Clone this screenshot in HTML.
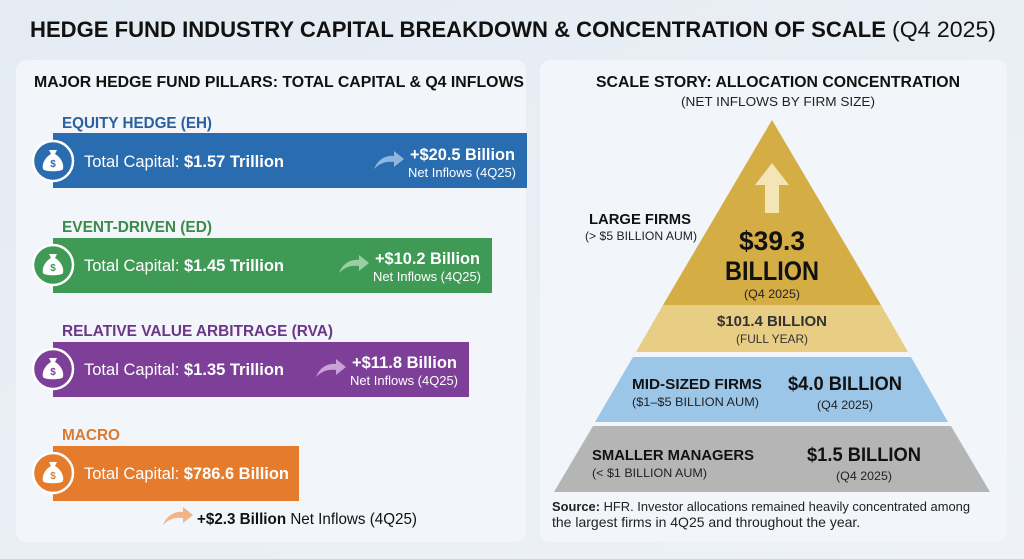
<!DOCTYPE html>
<html><head><meta charset="utf-8"><style>
html,body{margin:0;padding:0;width:1024px;height:559px;overflow:hidden;background:#e8eef5}
svg{display:block}
text{font-family:"Liberation Sans",sans-serif}
.b{font-weight:bold}
</style></head><body>
<svg width="1024" height="559" viewBox="0 0 1024 559" xmlns="http://www.w3.org/2000/svg">
<defs>
<linearGradient id="bg" x1="0" y1="0" x2="1" y2="1"><stop offset="0" stop-color="#e4ebf3"/><stop offset="1" stop-color="#eef2f7"/></linearGradient>
<g id="bag"><circle r="20" fill="currentColor" stroke="#fff" stroke-width="2.5"/><path d="M-4,-11 L4,-11 L2,-7 C9,-3 11,4 10,8 C9,11 -9,11 -10,8 C-11,4 -9,-3 -2,-7 Z" fill="#fff"/><text x="0" y="6" text-anchor="middle" font-size="10" font-weight="bold" fill="currentColor">$</text></g>
<path id="arr" d="M0,14 C4,4 12,0 20,1 L20,-4 L30,4 L20,12 L20,7 C12,6 6,8 0,14 Z"/>
</defs>
<rect width="1024" height="559" fill="url(#bg)"/>
<rect x="16" y="60" width="510" height="482" rx="10" fill="#f2f5f9"/>
<rect x="540" y="60" width="467" height="482" rx="10" fill="#f2f5f9"/>
<text x="30" y="37" class="b" font-size="22" fill="#111" textLength="856" lengthAdjust="spacingAndGlyphs">HEDGE FUND INDUSTRY CAPITAL BREAKDOWN &amp; CONCENTRATION OF SCALE</text>
<text x="892" y="37" font-size="22" fill="#111" textLength="104" lengthAdjust="spacingAndGlyphs">(Q4 2025)</text>
<text x="34" y="87" class="b" font-size="16" fill="#111" textLength="490" lengthAdjust="spacingAndGlyphs">MAJOR HEDGE FUND PILLARS: TOTAL CAPITAL &amp; Q4 INFLOWS</text>

<text x="62" y="128" class="b" font-size="16" fill="#2b5f9e" textLength="150" lengthAdjust="spacingAndGlyphs">EQUITY HEDGE (EH)</text>
<rect x="53" y="133" width="474" height="55" fill="#2a6cb0"/>
<use href="#bag" x="53" y="161" color="#2a6cb0"/>
<text x="84" y="167" font-size="17" fill="#fff" textLength="200" lengthAdjust="spacingAndGlyphs">Total Capital: <tspan class="b">$1.57 Trillion</tspan></text>
<use href="#arr" x="374" y="155" fill="#8fb6df"/>
<text x="410" y="160" class="b" font-size="17" fill="#fff" textLength="105" lengthAdjust="spacingAndGlyphs">+$20.5 Billion</text>
<text x="408" y="177" font-size="13" fill="#fff" textLength="108" lengthAdjust="spacingAndGlyphs">Net Inflows (4Q25)</text>

<text x="62" y="232" class="b" font-size="16" fill="#3a8a4a" textLength="150" lengthAdjust="spacingAndGlyphs">EVENT-DRIVEN (ED)</text>
<rect x="53" y="238" width="439" height="55" fill="#3f9a55"/>
<use href="#bag" x="53" y="265" color="#3f9a55"/>
<text x="84" y="271" font-size="17" fill="#fff" textLength="200" lengthAdjust="spacingAndGlyphs">Total Capital: <tspan class="b">$1.45 Trillion</tspan></text>
<use href="#arr" x="339" y="259" fill="#98cfa3"/>
<text x="375" y="264" class="b" font-size="17" fill="#fff" textLength="105" lengthAdjust="spacingAndGlyphs">+$10.2 Billion</text>
<text x="373" y="281" font-size="13" fill="#fff" textLength="108" lengthAdjust="spacingAndGlyphs">Net Inflows (4Q25)</text>

<text x="62" y="336" class="b" font-size="16" fill="#6b3688" textLength="271" lengthAdjust="spacingAndGlyphs">RELATIVE VALUE ARBITRAGE (RVA)</text>
<rect x="53" y="342" width="416" height="55" fill="#7d3f98"/>
<use href="#bag" x="53" y="369" color="#7d3f98"/>
<text x="84" y="375" font-size="17" fill="#fff" textLength="200" lengthAdjust="spacingAndGlyphs">Total Capital: <tspan class="b">$1.35 Trillion</tspan></text>
<use href="#arr" x="316" y="363" fill="#c7a3d8"/>
<text x="352" y="368" class="b" font-size="17" fill="#fff" textLength="105" lengthAdjust="spacingAndGlyphs">+$11.8 Billion</text>
<text x="350" y="385" font-size="13" fill="#fff" textLength="108" lengthAdjust="spacingAndGlyphs">Net Inflows (4Q25)</text>

<text x="62" y="440" class="b" font-size="16" fill="#d97a30" textLength="58" lengthAdjust="spacingAndGlyphs">MACRO</text>
<rect x="53" y="446" width="246" height="55" fill="#e57b2d"/>
<use href="#bag" x="53" y="473" color="#e57b2d"/>
<text x="84" y="479" font-size="17" fill="#fff" textLength="205" lengthAdjust="spacingAndGlyphs">Total Capital: <tspan class="b">$786.6 Billion</tspan></text>
<use href="#arr" x="163" y="511" fill="#f1b587"/>
<text x="197" y="524" font-size="16" fill="#111" textLength="220" lengthAdjust="spacingAndGlyphs"><tspan class="b">+$2.3 Billion</tspan> Net Inflows (4Q25)</text>

<text x="778" y="87" text-anchor="middle" class="b" font-size="16" fill="#111" textLength="364" lengthAdjust="spacingAndGlyphs">SCALE STORY: ALLOCATION CONCENTRATION</text>
<text x="778" y="106" text-anchor="middle" font-size="13" fill="#222" textLength="194" lengthAdjust="spacingAndGlyphs">(NET INFLOWS BY FIRM SIZE)</text>

<polygon points="772,120 663,305 881,305" fill="#d4ad45"/>
<polygon points="663,305 881,305 908,352 636,352" fill="#e8cd84"/>
<polygon points="633,357 911,357 948,422 595,422" fill="#9cc6e8"/>
<polygon points="593,426 951,426 990,492 554,492" fill="#b5b5b5"/>
<polygon points="765,213 765,185 755,185 772,163 789,185 779,185 779,213" fill="#f3e5b5"/>

<text x="640" y="224" text-anchor="middle" class="b" font-size="15" fill="#111" textLength="102" lengthAdjust="spacingAndGlyphs">LARGE FIRMS</text>
<text x="641" y="240" text-anchor="middle" font-size="12" fill="#222" textLength="112" lengthAdjust="spacingAndGlyphs">(&gt; $5 BILLION AUM)</text>
<text x="772" y="250" text-anchor="middle" class="b" font-size="27" fill="#111" textLength="66" lengthAdjust="spacingAndGlyphs">$39.3</text>
<text x="772" y="280" text-anchor="middle" class="b" font-size="27" fill="#111" textLength="94" lengthAdjust="spacingAndGlyphs">BILLION</text>
<text x="772" y="298" text-anchor="middle" font-size="12" fill="#222" textLength="56" lengthAdjust="spacingAndGlyphs">(Q4 2025)</text>
<text x="772" y="326" text-anchor="middle" class="b" font-size="15" fill="#333" textLength="110" lengthAdjust="spacingAndGlyphs">$101.4 BILLION</text>
<text x="772" y="343" text-anchor="middle" font-size="12" fill="#333" textLength="72" lengthAdjust="spacingAndGlyphs">(FULL YEAR)</text>

<text x="632" y="389" class="b" font-size="15" fill="#111" textLength="130" lengthAdjust="spacingAndGlyphs">MID-SIZED FIRMS</text>
<text x="632" y="406" font-size="12" fill="#222" textLength="127" lengthAdjust="spacingAndGlyphs">($1–$5 BILLION AUM)</text>
<text x="845" y="390" text-anchor="middle" class="b" font-size="19" fill="#111" textLength="114" lengthAdjust="spacingAndGlyphs">$4.0 BILLION</text>
<text x="845" y="409" text-anchor="middle" font-size="12" fill="#222" textLength="56" lengthAdjust="spacingAndGlyphs">(Q4 2025)</text>

<text x="592" y="460" class="b" font-size="15" fill="#111" textLength="162" lengthAdjust="spacingAndGlyphs">SMALLER MANAGERS</text>
<text x="592" y="477" font-size="12" fill="#222" textLength="115" lengthAdjust="spacingAndGlyphs">(&lt; $1 BILLION AUM)</text>
<text x="864" y="461" text-anchor="middle" class="b" font-size="19" fill="#111" textLength="114" lengthAdjust="spacingAndGlyphs">$1.5 BILLION</text>
<text x="864" y="480" text-anchor="middle" font-size="12" fill="#222" textLength="56" lengthAdjust="spacingAndGlyphs">(Q4 2025)</text>

<text x="552" y="511" font-size="12.5" fill="#222" textLength="418" lengthAdjust="spacingAndGlyphs"><tspan class="b">Source:</tspan> HFR. Investor allocations remained heavily concentrated among</text>
<text x="552" y="527" font-size="14" fill="#222">the largest firms in 4Q25 and throughout the year.</text>
</svg>
</body></html>
